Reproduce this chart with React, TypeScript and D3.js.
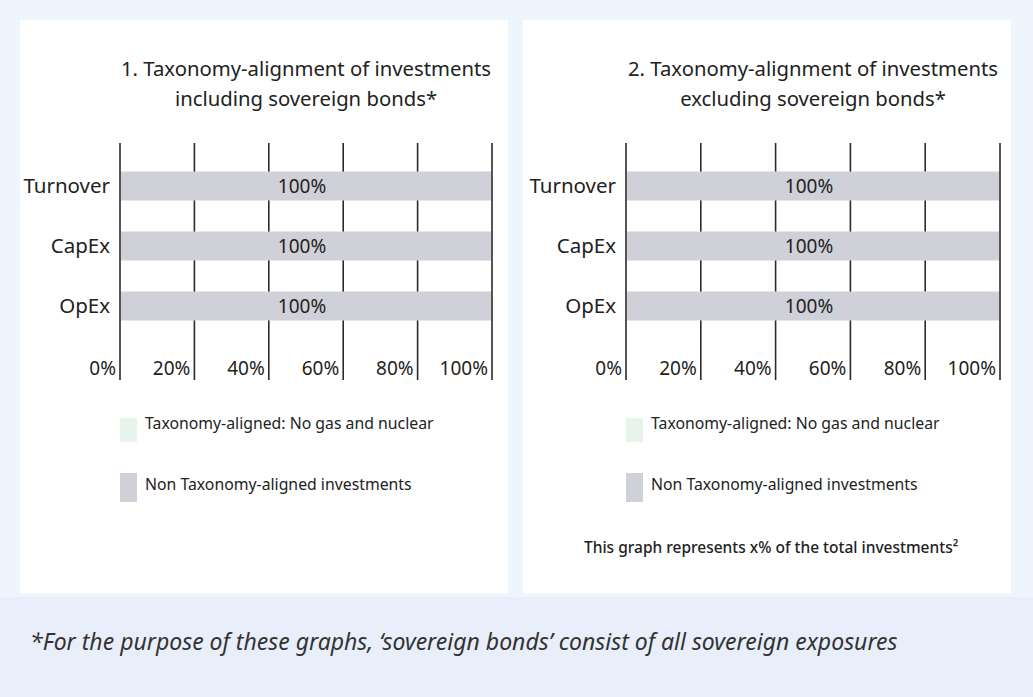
import React from "react";
import * as d3 from "d3";

const categories = ["Turnover", "CapEx", "OpEx"];
const alignedIncl = [0, 0, 0];
const nonAlignedIncl = [100, 100, 100];
const alignedExcl = [0, 0, 0];
const nonAlignedExcl = [100, 100, 100];
const tickValues = [0, 20, 40, 60, 80, 100];
const legendLabels = ["Taxonomy-aligned: No gas and nuclear", "Non Taxonomy-aligned investments"];
const titles = [
  ["1. Taxonomy-alignment of investments", "including sovereign bonds*"],
  ["2. Taxonomy-alignment of investments", "excluding sovereign bonds*"],
];

const W = 1033;
const H = 697;
const FONT = "'Noto Sans', 'Open Sans', sans-serif";
const ALIGNED_COLOR = "#e6f4ec";
const NON_COLOR = "#cfd0d8";

function Panel({ x0, x1, aligned, non, title, note }: { x0: number; x1: number; aligned: number[]; non: number[]; title: string[]; note?: string }) {
  const x = d3.scaleLinear().domain([0, 100]).range([x0, x1]);
  const y = d3.scalePoint<string>().domain(categories).range([186, 306]);
  const barH = 29;
  const cx = (x0 + x1) / 2;
  return (
    <g>
      <text x={cx} y={76} textAnchor="middle" fontSize={20.3} fill="#222">{title[0]}</text>
      <text x={cx} y={106} textAnchor="middle" fontSize={20.3} fill="#222">{title[1]}</text>
      {tickValues.map((t) => (
        <g key={t}>
          <line x1={x(t)} x2={x(t)} y1={143} y2={380} stroke="#2a2a2a" strokeWidth={1.6} />
          <text x={x(t) - 4} y={375} textAnchor="end" fontSize={19} fill="#222">{t}%</text>
        </g>
      ))}
      {categories.map((c, i) => (
        <g key={c}>
          <rect x={x(0) + 1} y={(y(c) as number) - barH / 2} width={Math.max(0, x(aligned[i]) - x(0))} height={barH} fill={ALIGNED_COLOR} />
          <rect x={x(aligned[i]) + 1} y={(y(c) as number) - barH / 2} width={x(aligned[i] + non[i]) - x(aligned[i]) - 2} height={barH} fill={NON_COLOR} />
          <text x={cx - 4} y={(y(c) as number) + 7} textAnchor="middle" fontSize={19} fill="#222">{non[i]}%</text>
          <text x={x0 - 10} y={(y(c) as number) + 7} textAnchor="end" fontSize={20.5} fill="#222">{c}</text>
        </g>
      ))}
      <rect x={x0} y={418} width={17} height={24} fill={ALIGNED_COLOR} />
      <text x={x0 + 25} y={429} fontSize={15.8} fill="#222">{legendLabels[0]}</text>
      <rect x={x0} y={473} width={17} height={29} fill={NON_COLOR} />
      <text x={x0 + 25} y={490} fontSize={15.8} fill="#222">{legendLabels[1]}</text>
      {note && (
        <text x={x0 - 42} y={553} fontSize={15.5} fontWeight={500} fill="#222">{note}</text>
      )}
    </g>
  );
}

export default function App() {
  return (
    <svg width={W} height={H} style={{ position: "absolute", left: 0, top: 0, fontFamily: FONT }}>
      <rect x={0} y={0} width={W} height={H} fill="#eff5fc" />
      <rect x={0} y={597} width={W} height={100} fill="#e8effa" />
      <rect x={20} y={20} width={488} height={573} fill="#ffffff" />
      <rect x={523} y={20} width={488} height={573} fill="#ffffff" />
      <Panel x0={120} x1={492} aligned={alignedIncl} non={nonAlignedIncl} title={titles[0]} />
      <Panel x0={626} x1={1000} aligned={alignedExcl} non={nonAlignedExcl} title={titles[1]} note={"This graph represents x% of the total investments\u00b2"} />
      <text x={30} y={650} fontSize={23} fontStyle="italic" fill="#333">
        *For the purpose of these graphs, ‘sovereign bonds’ consist of all sovereign exposures
      </text>
    </svg>
  );
}
